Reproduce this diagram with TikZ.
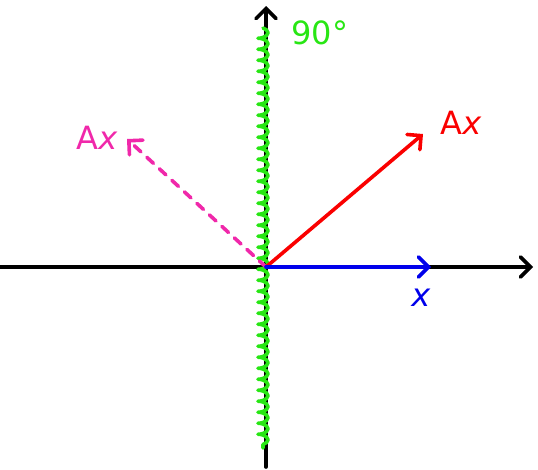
\documentclass[tikz,border=0pt]{standalone}
\usepackage{fontspec}
\setmainfont{DejaVu Sans}
\usetikzlibrary{arrows.meta,decorations.pathmorphing}
\definecolor{ggreen}{RGB}{40,230,20}
\definecolor{mag}{RGB}{240,40,170}
\definecolor{rred}{RGB}{250,0,0}
\definecolor{bblue}{RGB}{0,0,235}
\begin{document}
\begin{tikzpicture}[x=1pt,y=1pt,
  vec/.style={line width=3.6pt,line cap=round,-{Straight Barb[length=10pt,width=20pt,line cap=round]}},
  lbl/.style={font=\fontsize{32}{34}\selectfont}]
\useasboundingbox (0,0) rectangle (538,-469);
\coordinate (O) at (266,-267);
\coordinate (xl) at (0,-267);
\coordinate (xr) at (533,-267);
\coordinate (yb) at (266,-467);
\coordinate (yt) at (266,-6);
\coordinate (bx) at (431,-267);
\coordinate (ax) at (423,-134);
\coordinate (mx) at (127,-139);
\coordinate (gt) at (263,-28);
\coordinate (gb) at (263,-448);
\draw[vec,black] (xl) -- (xr);
\draw[vec,black] (yb) -- (yt);
\draw[ggreen,line width=3.6pt,line cap=round,line join=round,decorate,decoration={coil,amplitude=5pt,segment length=11pt,aspect=0.4}] (gt) -- (gb);
\draw[vec,mag,dash pattern=on 9pt off 8pt] (O) -- (mx);
\draw[vec,rred] (O) -- (ax);
\draw[vec,bblue] (O) -- (bx);
\node[lbl,text=ggreen] (t90) at (320,-33) {90°};
\node[lbl,text=mag] (tm) at (97,-138) {A\textit{x}};
\node[lbl,text=rred] (tr) at (461,-123) {A\textit{x}};
\node[lbl,text=bblue] (tb) at (421,-298) {\textit{x}};
\end{tikzpicture}
\end{document}
